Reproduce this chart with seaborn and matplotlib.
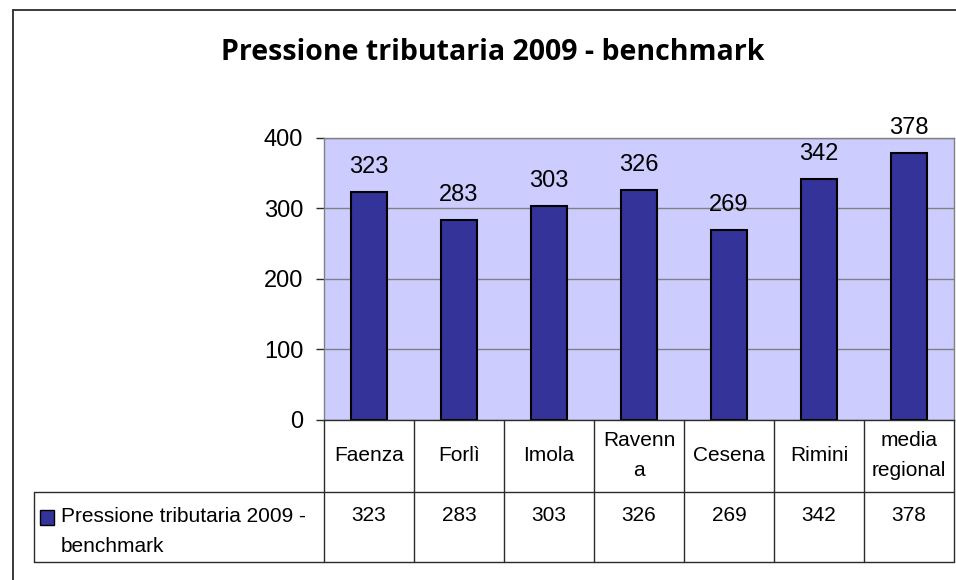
import matplotlib
import pandas as pd
import seaborn as sns

matplotlib.use("Agg")
import matplotlib.pyplot as plt
import matplotlib.transforms as mtransforms
from matplotlib.lines import Line2D
from matplotlib.patches import Rectangle


TITLE = "Pressione tributaria 2009 - benchmark"
SERIES_NAME = "Pressione tributaria 2009 -\nbenchmark"
CITIES = ["Faenza", "Forlì", "Imola", "Ravenna", "Cesena", "Rimini", "media regional"]
CITY_LABELS = ["Faenza", "Forlì", "Imola", "Ravenn\na", "Cesena", "Rimini", "media\nregional"]
VALUES = [323, 283, 303, 326, 269, 342, 378]
Y_TICKS = [0, 100, 200, 300, 400]

W, H = 956, 580
BAR_COLOR = "#333399"
PLOT_BG = "#CCCCFF"
GRID_COLOR = "#808080"
LINE_COLOR = "#2b2b2b"


def fx(px):
    return px / W


def fy(py):
    return 1 - py / H


sns.set_style("white")
plt.rcParams["font.family"] = ["Liberation Sans", "DejaVu Sans"]
plt.rcParams["text.color"] = "black"
plt.rcParams["ytick.labelcolor"] = "black"

fig = plt.figure(figsize=(W / 100, H / 100), dpi=100)

# chart border (right/bottom edges fall outside the picture)
fig.add_artist(Line2D([fx(12.7), fx(12.7)], [fy(10), 0], color=LINE_COLOR, lw=1.3))
fig.add_artist(Line2D([fx(12.7), 1], [fy(10), fy(10)], color=LINE_COLOR, lw=1.3))

fig.text(fx(493), fy(60), TITLE, ha="center", va="baseline",
         fontsize=20.5, fontweight="bold", family=["Open Sans", "DejaVu Sans"])

# plot area
ax = fig.add_axes([fx(324), fy(420), fx(954) - fx(324), fy(137.7) - fy(420)])
ax.set_facecolor(PLOT_BG)
df = pd.DataFrame({"city": CITIES, "value": VALUES})
sns.barplot(data=df, x="city", y="value", color=BAR_COLOR, saturation=1,
            edgecolor="black", linewidth=1.5, width=0.4, ax=ax)
ax.set_ylim(0, 400)
ax.set_yticks(Y_TICKS)
ax.set_xticks([])
ax.set_xlabel("")
ax.set_ylabel("")
ax.yaxis.grid(True, color=GRID_COLOR, lw=1)
ax.set_axisbelow(True)
for side in ["top", "right", "left"]:
    ax.spines[side].set_color(GRID_COLOR)
    ax.spines[side].set_linewidth(1)
ax.spines["bottom"].set_color(LINE_COLOR)
ax.spines["bottom"].set_linewidth(1)
ax.tick_params(axis="y", left=True, length=6, width=1, color=LINE_COLOR,
               pad=9, labelsize=17, labelcolor="black")
ax.bar_label(ax.containers[0], padding=10, fontsize=17, color="black")

# data table below the plot
trans = mtransforms.blended_transform_factory(ax.transData, fig.transFigure)
n = len(VALUES)
for i in range(n + 1):
    fig.add_artist(Line2D([i - 0.5, i - 0.5], [fy(420), fy(562)], transform=trans,
                          color=LINE_COLOR, lw=1))
for py in [491.7, 562]:
    fig.add_artist(Line2D([fx(34), fx(954)], [fy(py), fy(py)], color=LINE_COLOR, lw=1))
fig.add_artist(Line2D([fx(34), fx(34)], [fy(491.7), fy(562)], color=LINE_COLOR, lw=1))

for i, lab in enumerate(CITY_LABELS):
    lines = lab.split("\n")
    base = 461 - 15 * (len(lines) - 1)
    for k, line in enumerate(lines):
        fig.text(i, fy(base + 30 * k), line, transform=trans, ha="center",
                 va="baseline", fontsize=15)

for i, v in enumerate(VALUES):
    fig.text(i, fy(521), str(v), transform=trans, ha="center", va="baseline", fontsize=15)

fig.add_artist(Rectangle((fx(40), fy(525)), fx(14), 15 / H, facecolor=BAR_COLOR,
                         edgecolor="black", lw=1))
for k, line in enumerate(SERIES_NAME.split("\n")):
    fig.text(fx(61), fy(522 + 30 * k), line, ha="left", va="baseline", fontsize=15)

fig.savefig("out.png", dpi=100)
plt.close(fig)
